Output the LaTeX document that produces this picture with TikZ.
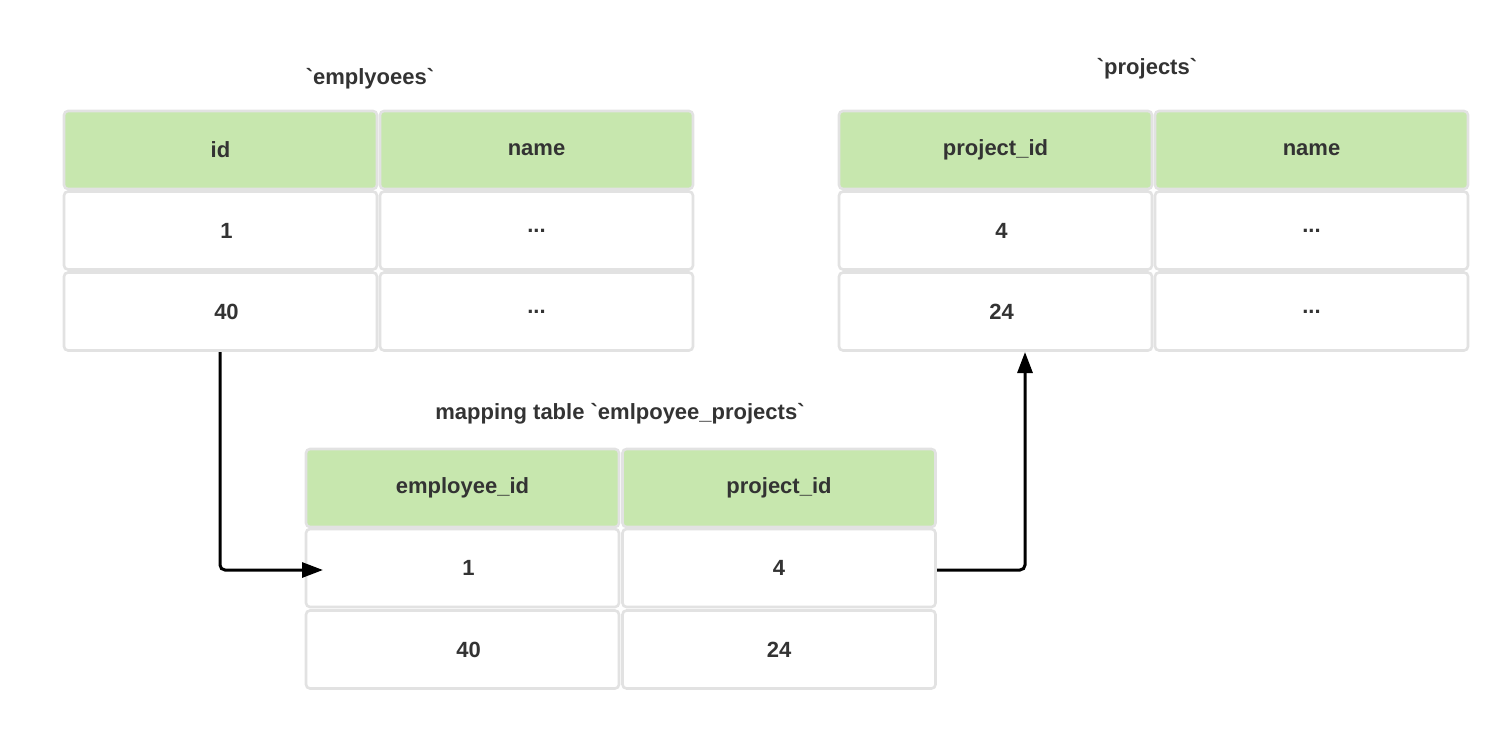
\documentclass[tikz,border=0pt]{standalone}
\usepackage{fontspec}
\setmainfont{Liberation Sans}[Ligatures=TeXOff]
\usetikzlibrary{arrows.meta}
\definecolor{hdr}{HTML}{C7E7AE}
\definecolor{bord}{HTML}{E2E2E2}
\definecolor{txt}{HTML}{333333}
\newcommand{\bq}{\symbol{96}}
\tikzset{
  cell/.style={draw=bord, line width=2.6pt, rounded corners=4pt, fill=white,
    minimum width=313pt, minimum height=78pt, inner sep=0pt,
    font=\fontsize{22}{26}\selectfont\bfseries, text=txt},
  hcell/.style={cell, fill=hdr},
  fcell/.style={cell, execute at begin node={\hspace*{12pt}}},
  ttl/.style={font=\fontsize{22}{26}\selectfont\bfseries, text=txt, inner sep=0pt},
  conn/.style={line width=3pt, rounded corners=5pt, -{Triangle[length=21pt,width=15pt]}}
}
\begin{document}
\begin{tikzpicture}[x=1pt,y=-1pt]
\useasboundingbox (0,0) rectangle (1512,731);
% employees
\node[ttl] (t1) at (370,79) {\bq emplyoees\bq};
\node[hcell] (e11) at (220.5,150) {id};
\node[hcell] (e12) at (536.5,150) {name};
\node[fcell] (e21) at (220.5,230.5) {1};
\node[cell] (e22) at (536.5,230.5) {...};
\node[fcell] (e31) at (220.5,311.5) {40};
\node[cell] (e32) at (536.5,311.5) {...};
% projects
\node[ttl] (t2) at (1147,69) {\bq projects\bq};
\node[hcell] (p11) at (995.5,150) {project\_id};
\node[hcell] (p12) at (1311.5,150) {name};
\node[fcell] (p21) at (995.5,230.5) {4};
\node[cell] (p22) at (1311.5,230.5) {...};
\node[fcell] (p31) at (995.5,311.5) {24};
\node[cell] (p32) at (1311.5,311.5) {...};
% mapping
\node[ttl] (t3) at (620,414) {mapping table \bq emlpoyee\_projects\bq};
\node[hcell] (m11) at (462.5,488) {employee\_id};
\node[hcell] (m12) at (779,488) {project\_id};
\node[fcell] (m21) at (462.5,568) {1};
\node[cell] (m22) at (779,568) {4};
\node[fcell] (m31) at (462.5,649.5) {40};
\node[cell] (m32) at (779,649.5) {24};
% connectors
\coordinate (a1) at (220,352);
\coordinate (a2) at (323,570);
\draw[conn] (a1) |- (a2);
\coordinate (b1) at (937,570);
\coordinate (b2) at (1025,352);
\draw[conn] (b1) -| (b2);
\end{tikzpicture}
\end{document}
